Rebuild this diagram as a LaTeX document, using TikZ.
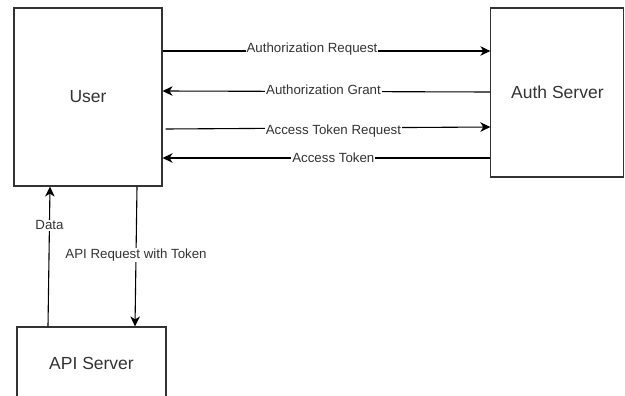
\documentclass[tikz,border=0pt]{standalone}
\usepackage{fontspec}
\setmainfont{Liberation Sans}
\usetikzlibrary{arrows}
\usetikzlibrary{arrows.meta}

\begin{document}
\begin{tikzpicture}[x=1pt, y=-1pt]
\tikzset{
 box/.style={draw=black!80, line width=1.1pt, text=black!80, inner sep=0pt, font=\fontsize{17.5}{20}\selectfont},
 flow/.style={black, line width=1.1pt, ->, >={Stealth[length=10pt, width=9.5pt, inset=3pt]}},
 lbl/.style={fill=white, inner sep=1pt, text=black!80, font=\fontsize{13.3}{15}\selectfont},
}
\clip (0,0) rectangle (625,396);
\node[box, minimum width=148pt, minimum height=178pt] (user) at (88,97) {User};
\node[box, minimum width=133pt, minimum height=169pt] (auth) at (557.4,92.5) {Auth Server};
\node[box, minimum width=149pt, minimum height=72pt] (api) at (91.5,363) {API Server};
\draw[flow] ([yshift=46pt]user.east) -- node[lbl, pos=.456, yshift=2pt] {Authorization Request} ([yshift=41.5pt]auth.west);
\draw[flow] ([yshift=.5pt]auth.west) -- node[lbl, pos=.509, yshift=1.5pt] {Authorization Grant} ([yshift=6pt]user.east);
\draw[flow] ([xshift=3pt,yshift=-32pt]user.east) -- node[lbl, pos=.517, yshift=-3pt] {Access Token Request} ([yshift=-34.5pt]auth.west);
\draw[flow] ([yshift=-65.5pt]auth.west) -- node[lbl, pos=.479] {Access Token} ([yshift=-61pt]user.east);
\draw[flow] ([xshift=-43.5pt]api.north) -- node[lbl, pos=.723] {Data} ([xshift=-38pt]user.south);
\draw[flow] ([xshift=49pt]user.south) -- node[lbl, pos=.489] {API Request with Token} ([xshift=43.5pt]api.north);
\end{tikzpicture}
\end{document}
